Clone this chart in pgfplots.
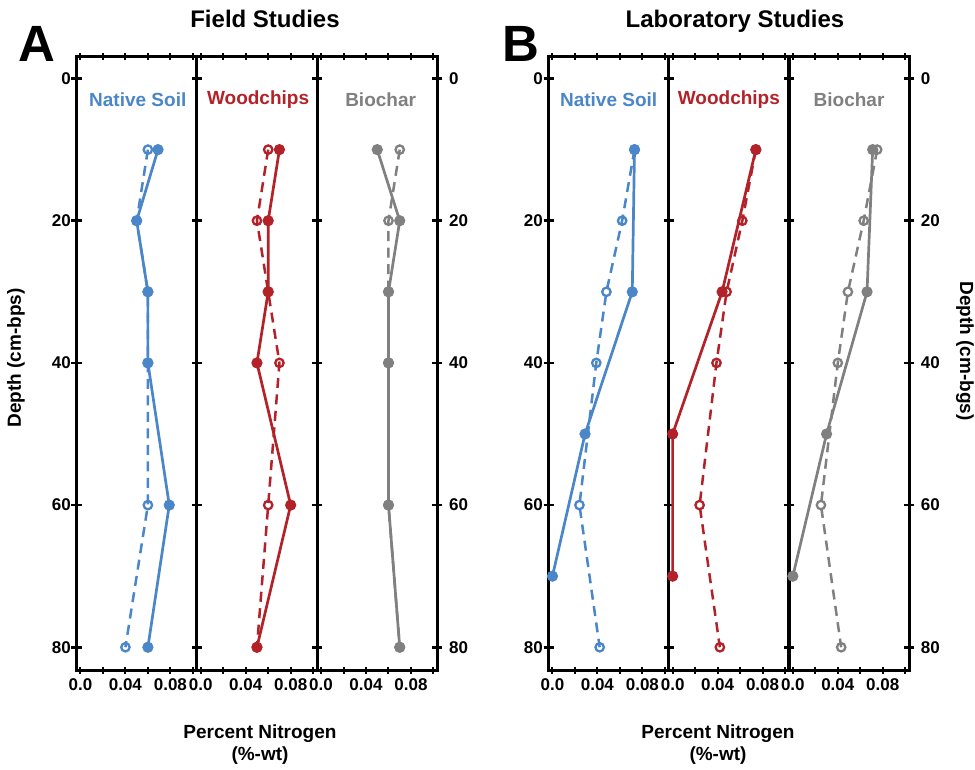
\documentclass[border=0pt]{standalone}
\usepackage{fontspec}
\setmainfont{Liberation Sans}
\usepackage{pgfplots}
\pgfplotsset{compat=1.18}
\definecolor{nsblue}{RGB}{74,134,200}
\definecolor{wcred}{RGB}{178,34,40}
\definecolor{bcgray}{RGB}{128,128,128}
\tikzset{lab/.style={font=\fontsize{19}{22}\selectfont\bfseries}}
\pgfplotsset{
  panel/.style={
    scale only axis, width=120.3pt, height=613.5pt, anchor=south west,
    xmin=-0.0035, xmax=0.1035, ymin=-3.1, ymax=83.2, y dir=reverse,
    axis line style={line width=3pt},
    tick align=center,
    xtick={0,0.02,0.04,0.06,0.08,0.1},
    xticklabels={0.0,,0.04,,0.08,},
    xtick pos=both, xticklabel pos=lower,
    ytick={0,20,40,60,80},
    ytick pos=both,
    yticklabels={,,,,},
    xtick style={/pgfplots/major tick length=7pt, line width=2pt, black},
    ytick style={/pgfplots/major tick length=10pt, line width=2.5pt, black},
    xticklabel style={font=\fontsize{17}{20}\selectfont\bfseries, yshift=-3pt},
    yticklabel style={font=\fontsize{17}{20}\selectfont\bfseries},
  },
  leftpanel/.style={panel, yticklabel pos=left, yticklabels={0,20,40,60,80}},
  rightpanel/.style={panel, yticklabel pos=right, yticklabels={0,20,40,60,80},
    yticklabel style={xshift=6pt}},
  solidS/.style={line width=2.7pt, mark=*, mark size=4.2pt, mark options={solid}},
  dashS/.style={line width=2.5pt, dash pattern=on 10pt off 6.5pt, mark=o, mark size=4.2pt, mark options={solid, fill=white, line width=2.3pt}},
}
\begin{document}
\begin{tikzpicture}
\path[use as bounding box] (0,0) rectangle (975pt,769pt);
% ---------------- Field studies ----------------
\begin{axis}[leftpanel, at={(76.5pt,99pt)}]
\addplot[dashS, color=nsblue] coordinates {(0.06,10) (0.05,20) (0.06,30) (0.06,40) (0.06,60) (0.04,80)};
\addplot[solidS, color=nsblue] coordinates {(0.069,10) (0.05,20) (0.06,30) (0.06,40) (0.079,60) (0.06,80)};
\node[lab, text=nsblue] at (axis cs:0.051,3.0) {Native Soil};
\end{axis}
\begin{axis}[panel, at={(196.8pt,99pt)}]
\addplot[dashS, color=wcred] coordinates {(0.06,10) (0.05,20) (0.06,30) (0.07,40) (0.06,60) (0.05,80)};
\addplot[solidS, color=wcred] coordinates {(0.07,10) (0.06,20) (0.06,30) (0.05,40) (0.08,60) (0.05,80)};
\node[lab, text=wcred] at (axis cs:0.051,3.0) {Woodchips};
\end{axis}
\begin{axis}[rightpanel, at={(317.1pt,99pt)}]
\addplot[dashS, color=bcgray] coordinates {(0.07,10) (0.06,20) (0.06,30) (0.06,40) (0.06,60) (0.07,80)};
\addplot[solidS, color=bcgray] coordinates {(0.05,10) (0.07,20) (0.06,30) (0.06,40) (0.06,60) (0.07,80)};
\node[lab, text=bcgray] at (axis cs:0.053,3.0) {Biochar};
\end{axis}
% ---------------- Laboratory studies ----------------
\begin{axis}[leftpanel, at={(548.5pt,99pt)}]
\addplot[dashS, color=nsblue] coordinates {(0.073,10) (0.062,20) (0.048,30) (0.039,40) (0.024,60) (0.042,80)};
\addplot[solidS, color=nsblue] coordinates {(0.073,10) (0.071,30) (0.029,50) (0.0,70)};
\node[lab, text=nsblue] at (axis cs:0.05,3.0) {Native Soil};
\end{axis}
\begin{axis}[panel, at={(668.7pt,99pt)}]
\addplot[dashS, color=wcred] coordinates {(0.074,10) (0.062,20) (0.048,30) (0.039,40) (0.024,60) (0.042,80)};
\addplot[solidS, color=wcred] coordinates {(0.074,10) (0.044,30) (0.0,50) (0.0,70)};
\node[lab, text=wcred] at (axis cs:0.05,3.0) {Woodchips};
\end{axis}
\begin{axis}[rightpanel, at={(788.9pt,99pt)}]
\addplot[dashS, color=bcgray] coordinates {(0.075,10) (0.063,20) (0.049,30) (0.040,40) (0.025,60) (0.043,80)};
\addplot[solidS, color=bcgray] coordinates {(0.071,10) (0.066,30) (0.030,50) (0.0,70)};
\node[lab, text=bcgray] at (axis cs:0.05,3.0) {Biochar};
\end{axis}
% ---------------- Texts ----------------
\node[font=\fontsize{51}{56}\selectfont\bfseries] at (36.5pt,725.5pt) {A};
\node[font=\fontsize{51}{56}\selectfont\bfseries] at (521pt,725.5pt) {B};
\node[font=\fontsize{24}{28}\selectfont\bfseries, anchor=base] at (265pt,741pt) {Field Studies};
\node[font=\fontsize{24}{28}\selectfont\bfseries, anchor=base] at (735pt,741pt) {Laboratory Studies};
\node[lab, rotate=90] at (16pt,411pt) {Depth (cm-bps)};
\node[lab, rotate=-90] at (965pt,418pt) {Depth (cm-bgs)};
\node[lab, align=center] at (260pt,24pt) {Percent Nitrogen\\(\%-wt)};
\node[lab, align=center] at (718pt,24pt) {Percent Nitrogen\\(\%-wt)};
\end{tikzpicture}
\end{document}
